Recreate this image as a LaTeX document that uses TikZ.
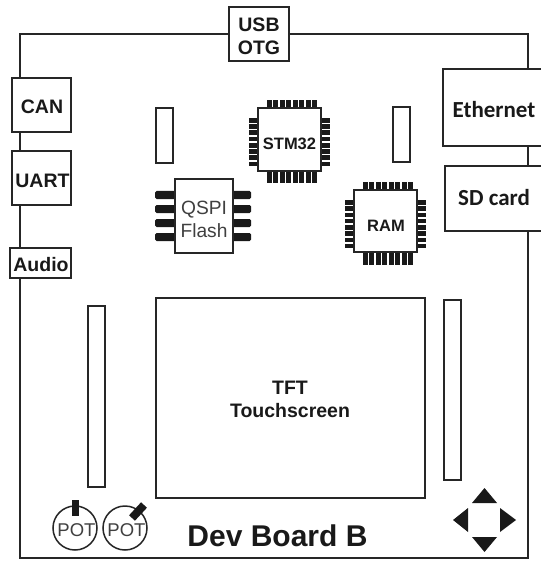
\documentclass[tikz,border=0pt]{standalone}
\usepackage{fontspec}
\setmainfont{Liberation Sans}
\newfontfamily\carl{Carlito}
\newcommand{\fs}[1]{\fontsize{#1}{#1}\selectfont}
\tikzset{
 x=1pt,y=-1pt,
 ln/.style={draw=black!85,line width=1.5pt},
 pin/.style={fill=black!90,draw=none},
 lab/.style={font=\bfseries\fs{19.5},align=center,inner sep=0pt,text=black!90,anchor=center},
 thin lab/.style={font=\fs{19.2},align=center,inner sep=0pt,text=black!75},
 box/.style={ln,fill=white}
}
\newcommand{\bx}[4]{\filldraw[box] (#1,#2) rectangle (#3,#4);}
% chip: l t r b pinlen-top pinlen-bottom
\newcommand{\chip}[6]{%
 \foreach \i in {0,...,7}{
  \fill[pin] ({#1+9+\i*6.45},{#2-#5}) rectangle ({#1+9+\i*6.45+5},#2);
  \fill[pin] ({#1+9+\i*6.45},#4) rectangle ({#1+9+\i*6.45+5},{#4+#6});
  \fill[pin] ({#1-9},{#2+10+\i*6.25}) rectangle (#1,{#2+10+\i*6.25+4.6});
  \fill[pin] (#3,{#2+10+\i*6.25}) rectangle ({#3+9},{#2+10+\i*6.25+4.6});
 }
 \filldraw[box] (#1,#2) rectangle (#3,#4);
}
\begin{document}
\begin{tikzpicture}
\useasboundingbox (0,0) rectangle (540,561);
\fill[white] (0,0) rectangle (540,561);
\draw[ln] (20,34) rectangle (528,558);
% slots and screen
\bx{156}{108}{173}{163}
\bx{393}{107}{410}{162}
\bx{88}{306}{105}{487}
\bx{444}{300}{461}{480}
\bx{156}{298}{425}{498}
\node[lab] (tft) at (290,399.5) {TFT\\[3.5pt]Touchscreen};
% edge modules
\bx{229}{7}{289}{61}
\node[lab] (usb) at (259,36) {USB\\[3.5pt]OTG};
\bx{12}{78}{71}{132}
\node[lab] (can) at (42,107) {CAN};
\bx{12}{151}{71}{205}
\node[lab] (uart) at (42.5,181) {UART};
\bx{10}{248}{71}{278}
\node[lab] (audio) at (41,265) {Audio};
\bx{443}{69}{545}{146}
\node[lab,font=\carl\bfseries\fs{23}] (eth) at (494,109.5) {Ethernet};
\bx{445}{166}{545}{231}
\node[lab,font=\carl\bfseries\fs{23}] (sd) at (494,198) {SD card};
% chips
\chip{258}{108}{321}{171}{8}{12}
\node[lab,font=\bfseries\fs{16.5}] (stm) at (289.5,144) {STM32};
\chip{354}{190}{417}{252}{8}{13}
\node[lab,font=\bfseries\fs{16.5}] (ram) at (386,226) {RAM};
% QSPI
\foreach \y in {191,205,219,233}{
 \fill[pin,rounded corners=1.5pt] (155,\y) rectangle (177,\y+8);
 \fill[pin,rounded corners=1.5pt] (231,\y) rectangle (251,\y+8);
}
\bx{175}{179}{233}{253}
\node[thin lab] (qspi) at (204,219) {QSPI\\[4pt]Flash};
% pots
\draw[ln,fill=white] (75,528) circle (22);
\draw[ln,fill=white] (125,528) circle (22);
\fill[pin] (72,500) rectangle (79,516);
\draw[line width=8pt,black!90] (144,505) -- (132,518);
\node[thin lab,font=\fs{18.5}] (pota) at (76.5,530) {POT};
\node[thin lab,font=\fs{18.5}] (potb) at (126.5,530) {POT};
% dpad
\fill[pin] (484.5,488) -- (497,503) -- (472,503) -- cycle;
\fill[pin] (484.5,552) -- (497,537) -- (472,537) -- cycle;
\fill[pin] (453,520) -- (468,508) -- (468,532) -- cycle;
\fill[pin] (516,520) -- (500,508) -- (500,532) -- cycle;
\node[lab,font=\bfseries\fs{30}] (title) at (277.5,536) {Dev Board B};
\end{tikzpicture}
\end{document}
